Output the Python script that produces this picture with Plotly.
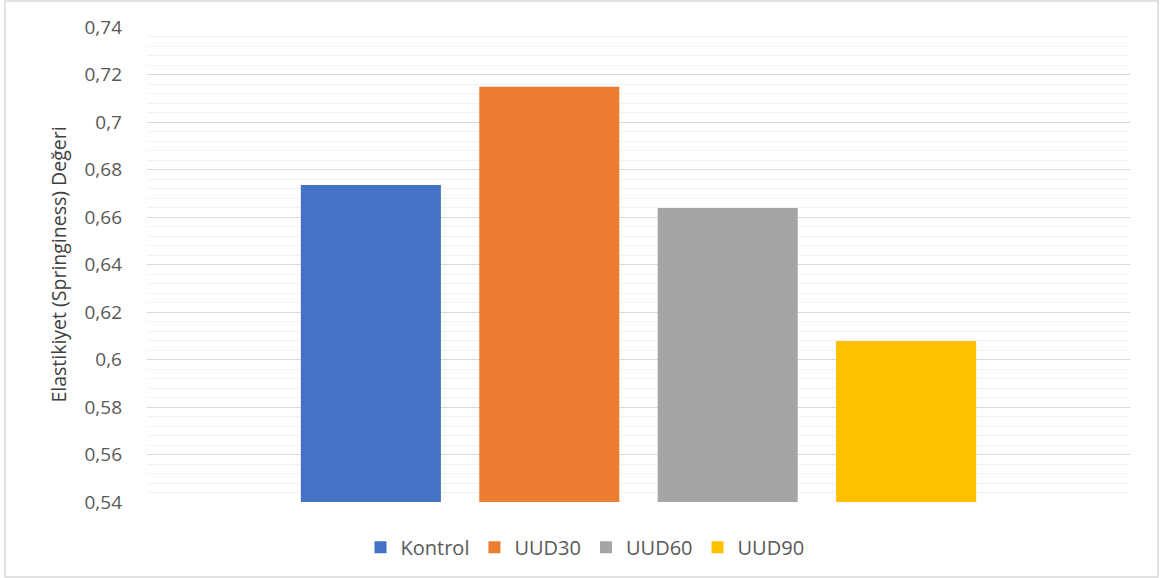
import plotly.graph_objects as go

series = ["Kontrol", "UUD30", "UUD60", "UUD90"]
values = [0.6735, 0.7148, 0.6638, 0.6078]
colors = ["#4472C4", "#ED7D31", "#A5A5A5", "#FFC000"]
tick_vals = [0.54, 0.56, 0.58, 0.60, 0.62, 0.64, 0.66, 0.68, 0.70, 0.72, 0.74]
tick_text = ["0,54", "0,56", "0,58", "0,6", "0,62", "0,64", "0,66", "0,68", "0,7", "0,72", "0,74"]
y_title = "Elastikiyet (Springiness) Değeri"

fig = go.Figure()
for name, v, c in zip(series, values, colors):
    fig.add_trace(go.Bar(x=[""], y=[v], name=name, marker=dict(color=c, line=dict(width=0))))

FONT = "Open Sans, sans-serif"
fig.update_layout(
    width=1160, height=578,
    margin=dict(l=147, r=30, t=27, b=76, autoexpand=False),
    paper_bgcolor="white", plot_bgcolor="white",
    barmode="group", bargap=0.274, bargroupgap=0.215,
    font=dict(family=FONT, color="#595959", size=19),
    showlegend=True,
    legend=dict(orientation="h", x=(585 - 147) / 983, xanchor="center", y=-0.095, yanchor="middle",
                font=dict(size=20, color="#595959"), itemwidth=30, tracegroupgap=0,
                traceorder="normal"),
    xaxis=dict(showticklabels=False, showgrid=False, zeroline=False, showline=False, ticks=""),
    yaxis=dict(range=[0.54, 0.74], tickvals=tick_vals, ticktext=tick_text, automargin=False,
               showgrid=True, gridcolor="#D9D9D9", gridwidth=1.3,
               minor=dict(dtick=0.004, showgrid=True, gridcolor="#F2F2F2", gridwidth=1),
               zeroline=False, showline=False, ticks="",
               tickfont=dict(size=19, color="#595959"), ticklabelstandoff=24,
               title=dict(text=y_title, font=dict(size=19.5, color="#404040"), standoff=12)),
    shapes=[dict(type="rect", xref="paper", yref="paper",
                 x0=(5 - 147) / 983, x1=(1158 - 147) / 983,
                 y0=(502 - 577) / 475, y1=(502 - 1) / 475,
                 line=dict(color="#D9D9D9", width=1.5), fillcolor="rgba(0,0,0,0)", layer="below")],
)

fig.write_html("out.html", config={"displayModeBar": False},
               post_script="document.body.style.margin='0';document.body.style.overflow='hidden';")
